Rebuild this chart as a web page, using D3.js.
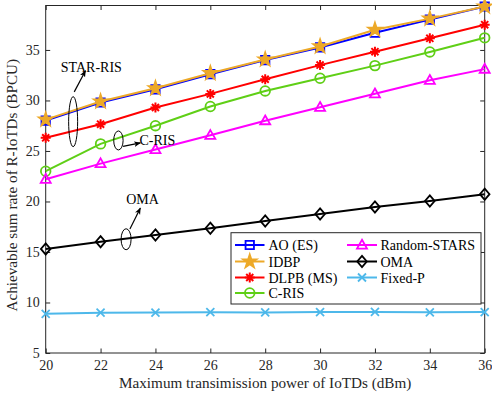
<!DOCTYPE html>
<html>
<head>
<meta charset="utf-8">
<script src="https://cdn.jsdelivr.net/npm/d3@7"></script>
<style>
  html, body { margin: 0; padding: 0; background: #fff; }
  svg { display: block; font-family: "Liberation Serif", "Times New Roman", serif; }
</style>
</head>
<body>
<svg id="chart" width="492" height="401"></svg>
<script>
// Transmit power of IoTDs (dBm)
const powers = [20, 22, 24, 26, 28, 30, 32, 34, 36];

// Achievable sum rate (BPCU) per scheme
const aoES        = [28.0, 29.8, 31.1, 32.6, 34.0, 35.25, 36.7, 38.0, 39.3];
const idbp        = [28.1, 29.9, 31.2, 32.7, 34.05, 35.35, 37.0, 38.1, 39.3];
const dlpbMS      = [26.3, 27.65, 29.3, 30.65, 32.1, 33.5, 34.83, 36.15, 37.5];
const cRIS        = [23.0, 25.7, 27.5, 29.4, 30.94, 32.2, 33.45, 34.8, 36.2];
const randomSTARS = [22.2, 23.75, 25.15, 26.55, 28.0, 29.33, 30.67, 32.0, 33.1];
const oma         = [15.3, 16.02, 16.68, 17.35, 18.07, 18.76, 19.46, 20.05, 20.72];
const fixedP      = [8.88, 8.99, 9.0, 9.04, 9.02, 9.05, 9.06, 9.03, 9.05];

const xTicks = [20, 22, 24, 26, 28, 30, 32, 34, 36];
const yTicks = [5, 10, 15, 20, 25, 30, 35];

const series = [
  { name: "AO (ES)",      values: aoES,        color: "#0000ff", marker: "square" },
  { name: "IDBP",         values: idbp,        color: "#eda928", marker: "star" },
  { name: "DLPB (MS)",    values: dlpbMS,      color: "#ff0000", marker: "asterisk" },
  { name: "C-RIS",        values: cRIS,        color: "#5fcf16", marker: "circle" },
  { name: "Random-STARS", values: randomSTARS, color: "#ff00ff", marker: "triangle" },
  { name: "OMA",          values: oma,         color: "#000000", marker: "diamond" },
  { name: "Fixed-P",      values: fixedP,      color: "#4db8ea", marker: "cross" }
];

const FONT = "'Liberation Serif', 'Times New Roman', serif";
const svg = d3.select("#chart");
const plotLeft = 45.7, plotRight = 484.7, plotTop = 5.5, plotBottom = 353;
const x = d3.scaleLinear().domain([20, 36]).range([plotLeft, plotRight]);
const y = d3.scaleLinear().domain([5, 39.4]).range([plotBottom, plotTop]);
const axisColor = "#262626";

// Marker shapes
function markerPath(type) {
  switch (type) {
    case "square": return "M-4.2,-4.2H4.2V4.2H-4.2Z";
    case "circle": return d3.symbol(d3.symbolCircle, Math.PI * 4.8 * 4.8)();
    case "triangle": return "M0,-5.2L5,3.6L-5,3.6Z";
    case "diamond": return "M0,-5.6L4.8,0L0,5.6L-4.8,0Z";
    case "star": return d3.symbol(d3.symbolStar, 56)();
    case "asterisk": {
      const r = 5, d = r * Math.SQRT1_2;
      return `M${-r},0H${r}M0,${-r}V${r}M${-d},${-d}L${d},${d}M${-d},${d}L${d},${-d}`;
    }
    case "cross": {
      const r = 4;
      return `M${-r},${-r}L${r},${r}M${-r},${r}L${r},${-r}`;
    }
  }
}
function drawMarker(g, s, cx, cy) {
  const filled = s.marker === "star";
  g.append("path")
    .attr("d", markerPath(s.marker))
    .attr("transform", `translate(${cx},${cy})`)
    .attr("fill", filled ? s.color : "none")
    .attr("stroke", s.color)
    .attr("stroke-width", s.marker === "asterisk" ? 2 : 1.8)
    .attr("stroke-linejoin", "miter");
}

// Frame and ticks
svg.append("rect")
  .attr("x", plotLeft).attr("y", plotTop)
  .attr("width", plotRight - plotLeft).attr("height", plotBottom - plotTop)
  .attr("fill", "none").attr("stroke", axisColor).attr("stroke-width", 1);

const xAxis = d3.axisBottom(x).tickValues(xTicks).tickSize(-4.5).tickPadding(7).tickFormat(d3.format("d"));
const yAxis = d3.axisLeft(y).tickValues(yTicks).tickSize(-4.5).tickPadding(6).tickFormat(d3.format("d"));
const xTop = d3.axisTop(x).tickValues(xTicks).tickSize(-4.5).tickFormat("");
const yRight = d3.axisRight(y).tickValues(yTicks).tickSize(-4.5).tickFormat("");

function styleAxis(g) {
  g.attr("font-family", FONT).attr("font-size", 14);
  g.select(".domain").remove();
  g.selectAll("line").attr("stroke", axisColor);
  g.selectAll("text").attr("fill", "#262626");
}
svg.append("g").attr("transform", `translate(0,${plotBottom})`).call(xAxis).call(styleAxis);
svg.append("g").attr("transform", `translate(${plotLeft},0)`).call(yAxis).call(styleAxis);
svg.append("g").attr("transform", `translate(0,${plotTop})`).call(xTop).call(styleAxis);
svg.append("g").attr("transform", `translate(${plotRight},0)`).call(yRight).call(styleAxis);

// Axis titles
svg.append("text")
  .attr("x", (plotLeft + plotRight) / 2).attr("y", 388)
  .attr("text-anchor", "middle").attr("fill", "#262626")
  .attr("font-family", FONT).attr("font-size", 15.2)
  .text("Maximum transimission power of IoTDs (dBm)");
svg.append("text")
  .attr("transform", `translate(17,${(plotTop + plotBottom) / 2 + 6}) rotate(-90)`)
  .attr("text-anchor", "middle").attr("fill", "#262626")
  .attr("font-family", FONT).attr("font-size", 15.2)
  .text("Achievable sum rate of R-IoTDs (BPCU)");

// Lines and markers
const plot = svg.append("g");
const line = d3.line().x((d, i) => x(powers[i])).y(d => y(d));
series.forEach(s => {
  const g = plot.append("g");
  g.append("path").datum(s.values)
    .attr("d", line).attr("fill", "none")
    .attr("stroke", s.color).attr("stroke-width", 2);
  s.values.forEach((v, i) => drawMarker(g, s, x(powers[i]), y(v)));
});

// Annotations: ellipse groups with arrows and labels
const defs = svg.append("defs");
defs.append("marker")
  .attr("id", "arrowhead").attr("viewBox", "0 0 10 10")
  .attr("refX", 9).attr("refY", 5)
  .attr("markerWidth", 7).attr("markerHeight", 7)
  .attr("markerUnits", "userSpaceOnUse")
  .attr("orient", "auto")
  .append("path").attr("d", "M0,1L10,5L0,9L2.5,5Z").attr("fill", "#000");

const annotations = [
  { label: "STAR-RIS", ex: 21.0, ey: 27.9, rx: 4.5, ry: 25,
    from: [21.04, 30.85], to: [21.45, 32.95], tx: 20.55, ty: 32.85, anchor: "start" },
  { label: "C-RIS", ex: 22.65, ey: 26.04, rx: 4.7, ry: 9.5,
    from: [22.82, 25.45], to: [23.45, 25.8], tx: 23.42, ty: 25.55, anchor: "start" },
  { label: "OMA", ex: 22.93, ey: 16.26, rx: 5, ry: 10.5,
    from: [23.07, 17.28], to: [23.45, 19.35], tx: 23.53, ty: 19.75, anchor: "middle" }
];
const ann = svg.append("g");
annotations.forEach(a => {
  ann.append("ellipse")
    .attr("cx", x(a.ex)).attr("cy", y(a.ey))
    .attr("rx", a.rx).attr("ry", a.ry)
    .attr("fill", "none").attr("stroke", "#000").attr("stroke-width", 1);
  ann.append("line")
    .attr("x1", x(a.from[0])).attr("y1", y(a.from[1]))
    .attr("x2", x(a.to[0])).attr("y2", y(a.to[1]))
    .attr("stroke", "#000").attr("stroke-width", 1.2)
    .attr("marker-end", "url(#arrowhead)");
  ann.append("text")
    .attr("x", x(a.tx)).attr("y", y(a.ty))
    .attr("text-anchor", a.anchor).attr("fill", "#000")
    .attr("font-family", FONT).attr("font-size", 14)
    .text(a.label);
});

// Legend (two columns, column-major)
const legend = svg.append("g");
legend.append("rect")
  .attr("x", 231).attr("y", 232.7).attr("width", 250).attr("height", 71.3)
  .attr("fill", "#fff").attr("stroke", axisColor).attr("stroke-width", 1);
const rowY = [245, 261.5, 277.5, 293];
const cols = [{ x0: 235, x1: 264.5, tx: 268.5 }, { x0: 347, x1: 377, tx: 380.5 }];
series.forEach((s, i) => {
  const c = cols[i < 4 ? 0 : 1];
  const ry = rowY[i < 4 ? i : i - 4];
  const g = legend.append("g");
  g.append("line").attr("x1", c.x0).attr("x2", c.x1)
    .attr("y1", ry).attr("y2", ry)
    .attr("stroke", s.color).attr("stroke-width", 2);
  drawMarker(g, s, (c.x0 + c.x1) / 2, ry);
  g.append("text").attr("x", c.tx).attr("y", ry + 5)
    .attr("fill", "#000").attr("font-family", FONT).attr("font-size", 14)
    .text(s.name);
});
</script>
</body>
</html>
